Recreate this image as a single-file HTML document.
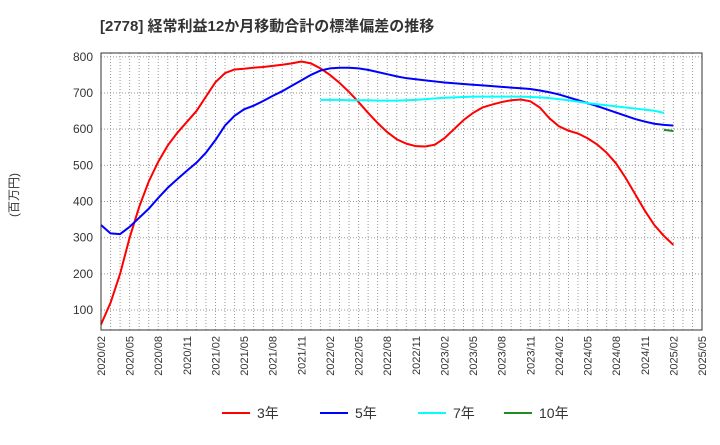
<!DOCTYPE html>
<html><head><meta charset="utf-8"><style>
body{margin:0;background:#fff;font-family:"Liberation Sans","Noto Sans CJK JP",sans-serif}
</style></head><body>
<svg width="720" height="440" viewBox="0 0 720 440" id="c" style="font-family:'Liberation Sans','Noto Sans CJK JP',sans-serif">
<text x="100" y="31" font-size="15" font-weight="bold" fill="#333">[2778]  経常利益12か月移動合計の標準偏差の推移</text>
<text transform="translate(18,195) rotate(-90)" font-size="12" fill="#333" text-anchor="middle">(百万円)</text>
<g id="grid"></g>
<g id="series"></g>
<rect x="101" y="53" width="601" height="277" fill="none" stroke="#333"/>
<g id="ticks"></g>
<g font-size="14" fill="#333">
<g><line x1="222" y1="413" x2="250" y2="413" stroke="#f00" stroke-width="2"/><text x="257" y="418">3年</text></g>
<g><line x1="320" y1="413" x2="348" y2="413" stroke="#00f" stroke-width="2"/><text x="355" y="418">5年</text></g>
<g><line x1="418" y1="413" x2="446" y2="413" stroke="#0ff" stroke-width="2"/><text x="453" y="418">7年</text></g>
<g><line x1="504" y1="413" x2="532" y2="413" stroke="#228b22" stroke-width="2"/><text x="539" y="418">10年</text></g>
</g>
</svg>
<script>
const yTicks=[100,200,300,400,500,600,700,800];
const xLabels=["2020/02","2020/05","2020/08","2020/11","2021/02","2021/05","2021/08","2021/11","2022/02","2022/05","2022/08","2022/11","2023/02","2023/05","2023/08","2023/11","2024/02","2024/05","2024/08","2024/11","2025/02","2025/05"];
const s3=[60,120,200,300,385,455,510,555,590,620,650,690,730,755,765,767,770,772,775,778,782,787,782,768,750,728,703,675,645,617,592,572,560,553,552,557,575,600,625,645,660,668,675,680,682,677,660,630,608,596,588,575,558,535,505,465,420,375,335,305,280];
const s5=[335,312,310,330,355,380,410,438,462,485,507,535,570,610,637,655,665,678,692,705,720,735,750,762,768,770,770,768,764,758,752,746,741,738,735,732,729,727,725,723,721,719,717,715,713,711,707,702,696,688,680,672,664,655,646,637,628,621,615,612,610];
const s7Start=23;
const s7=[681,681,681,680,680,680,679,679,679,680,681,683,685,687,688,689,690,690,690,690,690,690,689,688,686,683,680,676,672,669,666,663,660,657,654,651,645];
const s10Start=59;
const s10=[598,595];
const NS="http://www.w3.org/2000/svg";
const X=i=>101+i*9.54, Y=v=>346.2-v*0.3617;
const g=document.getElementById('grid'),t=document.getElementById('ticks'),se=document.getElementById('series');
function el(p,tag,a){const e=document.createElementNS(NS,tag);for(const k in a)e.setAttribute(k,a[k]);p.appendChild(e);return e;}
for(let i=1;i<63;i++){const l=el(g,'line',{x1:X(i),x2:X(i),y1:53,y2:330,stroke:'#999','stroke-dasharray':'1,2','stroke-width':1});}
yTicks.forEach(v=>{const l=el(g,'line',{x1:101,x2:702,y1:Y(v),y2:Y(v),stroke:'#999','stroke-dasharray':'1,2'});
const tx=el(t,'text',{x:93,y:Y(v)+4,'font-size':12,fill:'#333','text-anchor':'end'});tx.textContent=v;});
xLabels.forEach((s,i)=>{const x=X(i*3);const tx=el(t,'text',{transform:`translate(${x+4},336) rotate(-90)`,'font-size':11,fill:'#333','text-anchor':'end'});tx.textContent=s;});
function line(arr,st,c,n){const p=el(se,'polyline',{points:arr.map((v,i)=>X(i+st)+','+Y(v)).join(' '),fill:'none',stroke:c,'stroke-width':2});}
line(s3,0,'#f00','line-3y');line(s5,0,'#00f','line-5y');line(s7,s7Start,'#0ff','line-7y');line(s10,s10Start,'#228b22','line-10y');
</script>
</body></html>
